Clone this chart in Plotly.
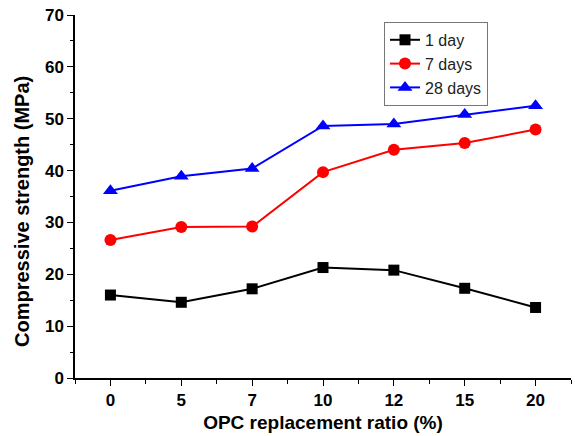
import plotly.graph_objects as go

# Replacement ratio categories (%) and compressive strength (MPa)
ratios = ["0", "5", "7", "10", "12", "15", "20"]
day1 = [16.0, 14.6, 17.2, 21.3, 20.8, 17.3, 13.6]
day7 = [26.6, 29.1, 29.2, 39.7, 44.0, 45.3, 47.9]
day28 = [36.1, 38.9, 40.4, 48.6, 49.0, 50.8, 52.5]

y_ticks = [0, 10, 20, 30, 40, 50, 60, 70]

pos = list(range(len(ratios)))
font_family = "Liberation Sans, Arial, sans-serif"

fig = go.Figure()
series = [
    ("1 day", day1, "black", "square", 11),
    ("7 days", day7, "red", "circle", 12),
    ("28 days", day28, "blue", "triangle-up", 13),
]
for name, vals, color, symbol, size in series:
    fig.add_trace(go.Scatter(
        x=pos, y=vals, name=name, mode="lines+markers",
        line=dict(color=color, width=2),
        marker=dict(color=color, symbol=symbol, size=size),
    ))

fig.update_layout(
    width=575, height=436,
    margin=dict(l=75, r=4, t=15, b=58),
    paper_bgcolor="white", plot_bgcolor="white",
    font=dict(family=font_family, color="black"),
    showlegend=True,
    legend=dict(
        x=0.623, y=0.981, xanchor="left", yanchor="top",
        bordercolor="#777777", borderwidth=1, bgcolor="white",
        font=dict(size=16, family=font_family, color="#222222"),
        tracegroupgap=0,
    ),
    xaxis=dict(
        range=[-0.5, 6.5],
        tickmode="array", tickvals=pos, ticktext=ratios,
        ticks="outside", ticklen=6, tickwidth=1, tickcolor="black",
        minor=dict(tickmode="array",
                   tickvals=[p - 0.5 for p in pos] + [pos[-1] + 0.5],
                   ticks="outside", ticklen=4, tickcolor="black"),
        showline=True, linecolor="black", linewidth=1.5,
        showgrid=False, zeroline=False,
        tickfont=dict(size=17, family=font_family, weight="bold"),
        title=dict(text="<b>OPC replacement ratio (%)</b>",
                   font=dict(size=19, family=font_family), standoff=7),
    ),
    yaxis=dict(
        range=[0, 70],
        tickmode="array", tickvals=y_ticks,
        ticks="outside", ticklen=6, tickwidth=1, tickcolor="black",
        minor=dict(tickmode="array",
                   tickvals=[v + 5 for v in y_ticks[:-1]],
                   ticks="outside", ticklen=3, tickcolor="black"),
        showline=True, linecolor="black", linewidth=1.5,
        showgrid=False, zeroline=False,
        tickfont=dict(size=17, family=font_family, weight="bold"),
    ),
    annotations=[dict(
        text="<b>Compressive strength (MPa)</b>",
        xref="paper", yref="paper", x=-0.107, y=0.46,
        xanchor="center", yanchor="middle", textangle=-90,
        showarrow=False, font=dict(size=20, family=font_family, color="black"),
    )],
)

fig.write_html("out.html")
